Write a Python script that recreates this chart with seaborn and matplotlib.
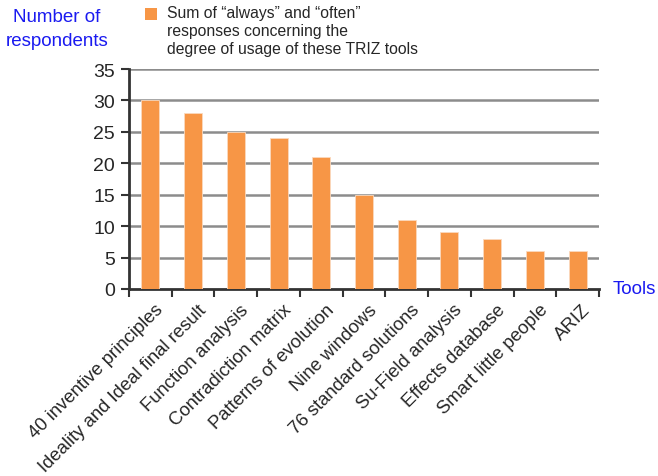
import matplotlib
matplotlib.use("Agg")
import matplotlib.pyplot as plt
import seaborn as sns
import pandas as pd
from matplotlib.patches import Rectangle

tools = ["40 inventive principles", "Ideality and Ideal final result", "Function analysis",
         "Contradiction matrix", "Patterns of evolution", "Nine windows",
         "76 standard solutions", "Su-Field analysis", "Effects database",
         "Smart little people", "ARIZ"]
counts = [30, 28, 25, 24, 21, 15, 11, 9, 8, 6, 6]
yticks = [0, 5, 10, 15, 20, 25, 30, 35]

sns.set_style("white")
plt.rcParams['font.family'] = ['Liberation Sans', 'DejaVu Sans']

df = pd.DataFrame({"tool": tools, "count": counts})
fig = plt.figure(figsize=(6.58, 4.77), dpi=100)
ax = fig.add_axes([129/658, 1-290/477, (599-129)/658, (290-70)/477])

sns.barplot(data=df, x="tool", y="count", color="#F79646", saturation=1,
            width=0.42, ax=ax, zorder=3)
for p in ax.patches:
    p.set_edgecolor("#FBD9BE")
    p.set_linewidth(0.6)

ax.set_ylim(0, 35)
ax.set_xlim(-0.5, len(tools) - 0.5)
ax.set_yticks(yticks)
ax.set_yticklabels([str(t) for t in yticks], fontsize=14)
for t in yticks[1:]:
    ax.axhline(t, color="#8C8C8C", lw=1.8, zorder=1)

ax.set_xticks([i - 0.5 for i in range(len(tools) + 1)])
ax.set_xticklabels([])
ax.tick_params(axis="x", direction="out", length=6, width=1.5, color="#333333", bottom=True)
ax.tick_params(axis="y", direction="out", length=6, width=1.5, color="#333333", left=True, pad=4)
for i, lab in enumerate(tools):
    ax.text(i + 0.1, -1.9, lab, rotation=45, ha="right", va="top",
            rotation_mode="anchor", fontsize=13.3)

for s in ["top", "right"]:
    ax.spines[s].set_visible(False)
for s in ["left", "bottom"]:
    ax.spines[s].set_color("#333333")
    ax.spines[s].set_linewidth(2)
ax.set_xlabel("")
ax.set_ylabel("")

fig.text(57/658, 1-17/477, "Number of", color="#1A1AF0", fontsize=13.5, ha="center", va="center")
fig.text(57/658, 1-41/477, "respondents", color="#1A1AF0", fontsize=13.5, ha="center", va="center")
fig.text(613/658, 1-290/477, "Tools", color="#1A1AF0", fontsize=13.5, ha="left", va="center")

fig.patches.append(Rectangle((145/658, 1-21/477), 12/658, 12/477, transform=fig.transFigure,
                             facecolor="#F79646", edgecolor="none"))
fig.text(167/658, 1-6/477,
         "Sum of \u201calways\u201d and \u201coften\u201d\nresponses concerning the\ndegree of usage of these TRIZ tools",
         fontsize=11.3, ha="left", va="top", linespacing=1.25)

fig.savefig("out.png", dpi=100)
